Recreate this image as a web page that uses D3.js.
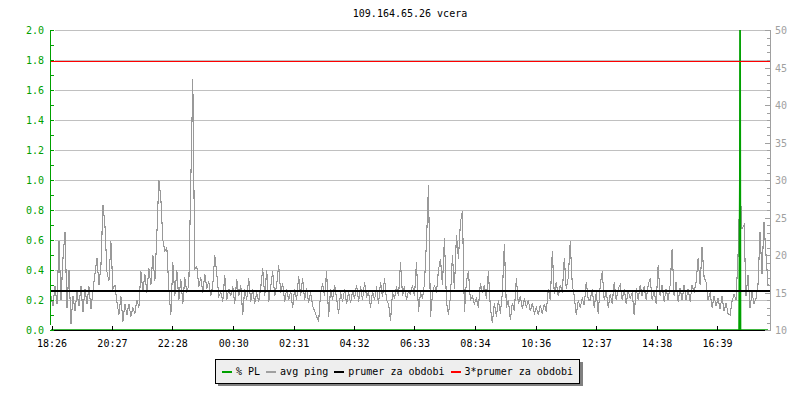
<!DOCTYPE html>
<html>
<head>
<meta charset="utf-8">
<script src="https://cdn.jsdelivr.net/npm/d3@7"></script>
<style>
  html, body { margin: 0; padding: 0; background: #ffffff; }
  svg { display: block; }
  text { font-family: "DejaVu Sans Mono", monospace; font-size: 10px; }
</style>
</head>
<body>
<svg id="chart" width="800" height="400"></svg>
<script>
// ---------------- DATA ----------------
const title = "109.164.65.26 vcera";
const xTickLabels = ["18:26","20:27","22:28","00:30","02:31","04:32","06:33","08:34","10:36","12:37","14:38","16:39"];
const leftTickValues = [0.0,0.2,0.4,0.6,0.8,1.0,1.2,1.4,1.6,1.8,2.0];
const rightTickValues = [10,15,20,25,30,35,40,45,50];
const sampleStepMin = 4; // minutes between ping samples
// avg ping in ms (right axis)
const ping = [
14.5,13.2,15.8,13.5,21.8,14.0,19.6,23.1,13.0,18.0,
10.8,14.5,12.6,15.0,13.2,15.8,12.4,15.5,13.5,15.8,
12.8,15.2,17.5,19.6,16.0,18.5,26.7,24.0,17.8,16.5,
21.8,15.5,16.0,13.8,12.0,14.5,11.1,13.5,12.0,13.5,
11.8,13.0,12.2,14.0,13.0,17.8,15.2,17.5,15.0,18.2,
16.0,20.0,16.5,22.7,30.0,27.5,22.0,20.5,21.0,15.5,
12.0,19.0,14.5,18.0,14.0,16.8,13.5,17.0,15.0,16.0,
29.8,43.5,18.2,18.5,15.8,17.0,15.0,17.5,15.5,16.5,
14.5,16.0,20.0,17.5,14.5,15.0,13.8,17.3,14.0,15.5,
14.5,15.8,13.5,16.8,14.5,16.0,12.0,15.5,14.0,16.9,
13.8,15.5,13.5,15.0,13.8,15.6,18.2,14.5,18.0,13.8,
15.8,17.8,14.5,16.0,18.7,15.0,16.2,13.8,15.5,14.0,
15.2,13.0,15.5,14.0,17.2,14.5,16.9,14.0,15.6,13.6,
15.0,13.2,12.5,11.8,11.1,15.0,16.2,14.5,17.8,11.8,
15.5,14.0,16.0,14.2,12.2,15.0,13.8,15.4,13.5,15.0,
13.6,15.2,14.2,16.0,13.8,15.8,14.0,16.4,14.5,15.0,
13.0,15.2,14.0,15.8,13.5,16.4,14.4,16.9,14.0,13.5,
11.2,15.0,14.2,15.8,14.5,19.0,14.6,15.8,14.0,15.2,
14.8,16.0,14.5,19.1,12.4,15.0,14.2,16.2,21.8,29.3,
11.8,14.8,16.0,15.0,18.0,19.5,16.0,22.2,13.8,12.0,
14.5,20.0,15.5,22.7,19.5,24.4,25.8,12.4,16.5,17.8,
14.0,14.5,13.5,14.2,13.0,16.2,15.0,16.0,14.2,17.8,
13.0,10.9,13.6,11.8,14.0,12.2,15.0,21.5,13.0,14.0,
11.4,13.6,12.5,16.9,13.5,14.5,12.8,14.2,13.0,14.0,
12.5,13.6,12.2,13.0,12.0,13.3,12.2,13.5,12.4,15.5,
14.0,20.5,14.8,16.4,14.5,16.0,15.0,19.6,15.5,17.0,
21.8,16.0,14.5,12.0,14.0,13.0,14.2,13.3,16.4,14.0,
14.0,15.5,13.0,15.0,12.2,16.0,17.8,14.0,15.2,13.0,
14.8,13.5,16.4,14.0,15.5,16.0,14.0,15.5,13.5,15.2,
14.2,15.0,12.0,15.6,14.0,16.0,14.5,15.8,14.0,16.0,
16.9,14.0,15.2,13.5,18.6,14.5,16.0,13.8,15.5,14.0,
16.0,20.8,14.5,16.4,13.8,15.6,14.0,16.0,14.0,15.5,
13.8,16.0,15.0,16.4,19.6,16.0,21.1,17.0,16.4,14.0,
15.0,13.0,14.5,13.2,14.2,12.8,14.5,12.5,13.6,12.2,
12.0,13.8,14.8,14.0,20.0,29.3,23.5,24.0,14.5,17.3,
13.0,15.0,13.5,14.2,16.0,23.1,17.5,24.4,20.0,16.0
];
// packet loss % (left axis), [minutes from start, value]; zero elsewhere
const packetLoss = [[0,0],[1378,0],[1379.5,1.0],[1380,2.6],[1381,0],[1436,0]];
const prumer = 15.25;        // ms
const prumer3 = 45.85;       // ms, as drawn
const legendItems = ["% PL","avg ping","prumer za obdobi","3*prumer za obdobi"];
const legendColors = ["#00a000","#a0a0a0","#000000","#ff0000"];

// ---------------- CHART ----------------
const svg = d3.select("#chart");
const L = 51, R = 770, T = 30, B = 330;

function hm(s){ const [h,m] = s.split(":").map(Number); return h*60+m; }
const t0 = hm(xTickLabels[0]);
const tickMinutes = xTickLabels.map(s => ((hm(s) - t0) + 1440) % 1440);

const x = d3.scaleLinear().domain([0, 1440]).range([L, R]);
const yL = d3.scaleLinear().domain([0, 2]).range([B, T]);
const yR = d3.scaleLinear().domain([10, 50]).range([B, T]);

svg.append("rect").attr("width",800).attr("height",400).attr("fill","#ffffff");

// title
svg.append("text").attr("x", 410).attr("y", 17).attr("text-anchor","middle").attr("fill","#000").text(title);

// grid
svg.append("g").selectAll("line").data(leftTickValues.slice(1)).join("line")
  .attr("x1", L+4).attr("x2", R)
  .attr("y1", d => Math.round(yL(d))+0.5).attr("y2", d => Math.round(yL(d))+0.5)
  .attr("stroke","#c0c0c0").attr("stroke-width",1).attr("shape-rendering","crispEdges");

const clip = svg.append("clipPath").attr("id","plot").append("rect")
  .attr("x", L-1).attr("y", T).attr("width", R-L+1).attr("height", B-T+1);

// ping line
svg.append("path").datum(ping)
  .attr("clip-path","url(#plot)")
  .attr("d", d3.line().x((d,i) => x(i*sampleStepMin)).y(d => yR(d)))
  .attr("fill","none").attr("stroke","#999999").attr("stroke-width",1.1)
  .attr("shape-rendering","crispEdges");

// packet loss
svg.append("path").datum(packetLoss)
  .attr("clip-path","url(#plot)")
  .attr("d", d3.line().x(d => x(d[0])).y(d => yL(d[1])))
  .attr("fill","none").attr("stroke","#00a000").attr("stroke-width",1.6);

// mean lines
svg.append("line").attr("x1", L).attr("x2", R).attr("y1", yR(prumer)).attr("y2", yR(prumer))
  .attr("stroke","#000").attr("stroke-width",2).attr("shape-rendering","crispEdges");
svg.append("line").attr("x1", L).attr("x2", R).attr("y1", Math.round(yR(prumer3))+0.5).attr("y2", Math.round(yR(prumer3))+0.5)
  .attr("stroke","#ff0000").attr("stroke-width",1).attr("shape-rendering","crispEdges");

// x axis
const xAxis = d3.axisBottom(x).tickValues(tickMinutes).tickFormat((d,i) => xTickLabels[i]).tickSize(-5).tickPadding(9);
const gx = svg.append("g").attr("transform", `translate(0.5,${B+0.5})`).call(xAxis);
gx.select(".domain").attr("d", `M${L-1},0H${R}`).attr("stroke","#000").attr("shape-rendering","crispEdges");
gx.selectAll(".tick line").attr("stroke","#000").attr("shape-rendering","crispEdges");
gx.selectAll(".tick text").attr("fill","#000").attr("font-family","DejaVu Sans Mono").attr("font-size",10);

// left axis (green)
const leftMinor = d3.range(0, 21).map(i => i/10);
svg.append("g").selectAll("line").data(leftMinor).join("line")
  .attr("x1", L-1).attr("x2", L+3)
  .attr("y1", d => Math.round(yL(d))+0.5).attr("y2", d => Math.round(yL(d))+0.5)
  .attr("stroke","#00a000").attr("shape-rendering","crispEdges");
svg.append("line").attr("x1", L-0.5).attr("x2", L-0.5).attr("y1", T).attr("y2", B-5)
  .attr("stroke","#00a000").attr("shape-rendering","crispEdges");
svg.append("g").selectAll("text").data(leftTickValues).join("text")
  .attr("x", 44).attr("y", d => yL(d)+4).attr("text-anchor","end").attr("fill","#00a000")
  .text(d => d3.format(".1f")(d));

// right axis (gray)
const rightMinor = d3.range(10, 51);
svg.append("g").selectAll("line").data(rightMinor).join("line")
  .attr("x1", d => d % 5 === 0 ? R-5 : R-3).attr("x2", R)
  .attr("y1", d => Math.round(yR(d))+0.5).attr("y2", d => Math.round(yR(d))+0.5)
  .attr("stroke","#a0a0a0").attr("shape-rendering","crispEdges");
svg.append("line").attr("x1", R+0.5).attr("x2", R+0.5).attr("y1", T).attr("y2", B+1)
  .attr("stroke","#a0a0a0").attr("shape-rendering","crispEdges");
svg.append("g").selectAll("text").data(rightTickValues).join("text")
  .attr("x", 775).attr("y", d => yR(d)+4).attr("text-anchor","start").attr("fill","#a0a0a0")
  .text(d => d);

// legend
const lg = svg.append("g");
lg.append("rect").attr("x", 218).attr("y", 362).attr("width", 365).attr("height", 24).attr("fill","#808080");
lg.append("rect").attr("x", 215.5).attr("y", 359.5).attr("width", 364).attr("height", 24)
  .attr("fill","#eeeeee").attr("stroke","#000").attr("shape-rendering","crispEdges");
let cx = 222;
legendItems.forEach((name, i) => {
  lg.append("line").attr("x1", cx).attr("x2", cx+10).attr("y1", 372).attr("y2", 372)
    .attr("stroke", legendColors[i]).attr("stroke-width", 2).attr("shape-rendering","crispEdges");
  const t = lg.append("text").attr("x", cx+14).attr("y", 375).attr("fill","#000").text(name);
  cx = cx + 14 + t.node().getComputedTextLength() + 6;
});
</script>
</body>
</html>
